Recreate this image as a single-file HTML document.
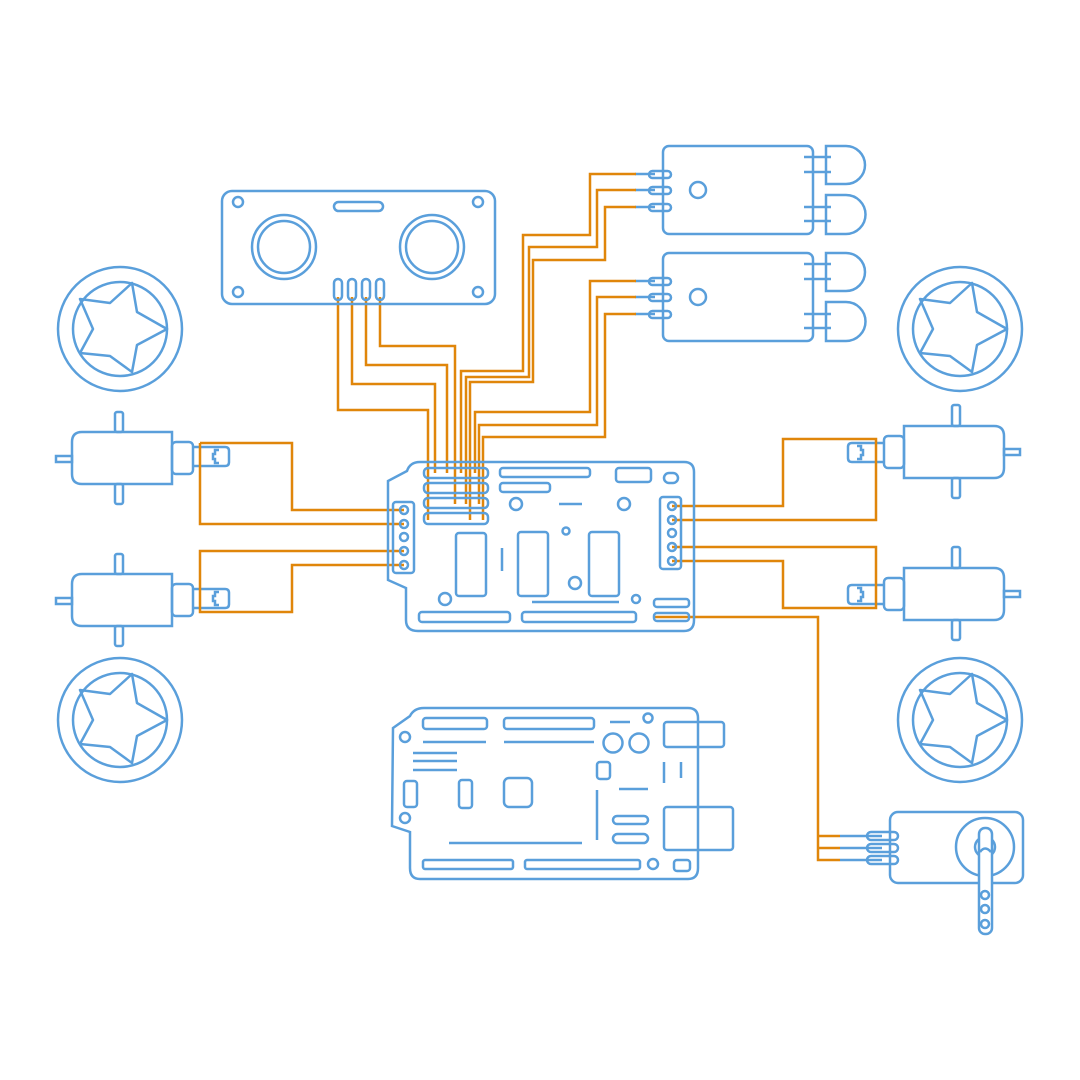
<!DOCTYPE html>
<html><head><meta charset="utf-8"><style>html,body{margin:0;padding:0;background:#fff}svg{display:block}</style></head>
<body>
<svg width="1080" height="1080" viewBox="0 0 1080 1080" xmlns="http://www.w3.org/2000/svg">
<defs>
<g id="wheel" fill="none" stroke="#5A9FDB" stroke-width="2.5">
  <circle r="62"/><circle r="47"/>
  <path d="M47,0 L17,16 L12,43 L-10,27 L-40,24 L-27,0 L-40,-30 L-10,-26 L12,-46 L17,-17 Z" stroke-linejoin="round"/>
</g>
<g id="motorL" fill="none" stroke="#5A9FDB" stroke-width="2.5">
  <path d="M172,432 H82 Q72,432 72,442 V474 Q72,484 82,484 H172 Z"/>
  <rect x="56" y="456" width="16" height="6"/>
  <rect x="115" y="412" width="8" height="20" rx="2"/>
  <rect x="115" y="484" width="8" height="20" rx="2"/>
  <rect x="172" y="442" width="21" height="32" rx="4"/>
  <path d="M193,447 H225 Q229,447 229,451 V462 Q229,466 225,466 H193"/>
  <path d="M219,450 H215 V454 H213 V459 H215 V463 H219"/>
</g>
<g id="motorR" fill="none" stroke="#5A9FDB" stroke-width="2.5">
  <path d="M904,426 H994 Q1004,426 1004,436 V468 Q1004,478 994,478 H904 Z"/>
  <rect x="1004" y="449" width="16" height="6"/>
  <rect x="952" y="405" width="8" height="21" rx="2"/>
  <rect x="952" y="478" width="8" height="20" rx="2"/>
  <rect x="884" y="436" width="20" height="32" rx="4"/>
  <path d="M884,443 H852 Q848,443 848,447 V458 Q848,462 852,462 H884"/>
  <path d="M857,446 H861 V450 H863 V455 H861 V459 H857"/>
</g>
<g id="relay" fill="none" stroke="#5A9FDB" stroke-width="2.5">
  <rect x="663" y="146" width="150" height="88" rx="6"/>
  <circle cx="698" cy="190" r="8"/>
  <rect x="649" y="171" width="22" height="7" rx="3.5"/>
  <rect x="649" y="187" width="22" height="7" rx="3.5"/>
  <rect x="649" y="204" width="22" height="7" rx="3.5"/>
  <path d="M635,174 H655 M635,190 H655 M635,207 H655"/>
  <path d="M804,157 H831 M804,172 H831 M804,207 H831 M804,221 H831"/>
  <path d="M826,146 H846 A19,19 0 0 1 846,184 H826 Z"/>
  <path d="M826,195 H846 A19.5,19.5 0 0 1 846,234 H826 Z"/>
</g>
</defs>

<use href="#wheel" x="120" y="329"/>
<use href="#wheel" x="120" y="720"/>
<use href="#wheel" x="960" y="329"/>
<use href="#wheel" x="960" y="720"/>

<use href="#motorL"/>
<use href="#motorL" y="142"/>
<use href="#motorR"/>
<use href="#motorR" y="142"/>

<use href="#relay"/>
<use href="#relay" y="107"/>

<g fill="none" stroke="#E0860A" stroke-width="2.5">
  <path d="M338,297 V410 H428 V520"/>
  <path d="M352,297 V384 H435 V473"/>
  <path d="M366,297 V365 H447 V473"/>
  <path d="M380,297 V346 H455 V504"/>
  <path d="M636,174 H590 V235 H523 V371 H461 V473"/>
  <path d="M636,190 H597 V247 H529 V377 H466 V504"/>
  <path d="M636,207 H605 V260 H533 V382 H470 V520"/>
  <path d="M636,281 H590 V412 H475 V473"/>
  <path d="M636,297 H597 V425 H479 V504"/>
  <path d="M636,314 H605 V437 H483 V520"/>
  <path d="M200,443 H292 V510 H404"/>
  <path d="M200,443 V524 H404"/>
  <path d="M404,551 H200 V612 H292 V565 H404"/>
  <path d="M672,506 H783 V439 H876 V520 H672"/>
  <path d="M672,547 H876 V608 H783 V561 H672"/>
  <path d="M655,617 H818 V860 H840 M818,836 H840 M818,848 H840"/>
</g>

<g fill="none" stroke="#5A9FDB" stroke-width="2.5">
  <rect x="222" y="191" width="273" height="113" rx="10"/>
  <circle cx="238" cy="202" r="5"/><circle cx="478" cy="202" r="5"/>
  <circle cx="238" cy="292" r="5"/><circle cx="478" cy="292" r="5"/>
  <rect x="334" y="202" width="49" height="9" rx="4.5"/>
  <circle cx="284" cy="247" r="32"/><circle cx="284" cy="247" r="26"/>
  <circle cx="432" cy="247" r="32"/><circle cx="432" cy="247" r="26"/>
  <rect x="334" y="279" width="8" height="21" rx="4"/>
  <rect x="348" y="279" width="8" height="21" rx="4"/>
  <rect x="362" y="279" width="8" height="21" rx="4"/>
  <rect x="376" y="279" width="8" height="21" rx="4"/>

  <path d="M407,471 Q410,462 420,462 H684 Q694,462 694,472 V620 Q694,631 684,631 H418 Q406,631 406,620 V588 L388,580 V481 Z"/>
  <rect x="424" y="468" width="64" height="10" rx="4"/>
  <rect x="424" y="483" width="64" height="10" rx="4"/>
  <rect x="424" y="498" width="64" height="10" rx="4"/>
  <rect x="424" y="513" width="64" height="11" rx="4"/>
  <rect x="500" y="468" width="90" height="9" rx="3"/>
  <rect x="500" y="483" width="50" height="9" rx="3"/>
  <rect x="616" y="468" width="35" height="14" rx="3"/>
  <rect x="664" y="473" width="14" height="10" rx="5"/>
  <circle cx="516" cy="504" r="6"/><circle cx="624" cy="504" r="6"/>
  <path d="M559,504 H582"/>
  <rect x="393" y="502" width="21" height="71" rx="3"/>
  <circle cx="404" cy="510" r="4"/><circle cx="404" cy="524" r="4"/><circle cx="404" cy="537" r="4"/><circle cx="404" cy="551" r="4"/><circle cx="404" cy="565" r="4"/>
  <rect x="660" y="497" width="21" height="72" rx="3"/>
  <circle cx="672" cy="506" r="4"/><circle cx="672" cy="520" r="4"/><circle cx="672" cy="533" r="4"/><circle cx="672" cy="547" r="4"/><circle cx="672" cy="561" r="4"/>
  <rect x="456" y="533" width="30" height="63" rx="3"/>
  <rect x="518" y="532" width="30" height="64" rx="3"/>
  <rect x="589" y="532" width="30" height="64" rx="3"/>
  <path d="M502,548 V571"/>
  <circle cx="566" cy="531" r="3.5"/><circle cx="575" cy="583" r="6"/>
  <circle cx="445" cy="599" r="6"/><circle cx="636" cy="599" r="4"/>
  <path d="M532,602 H619"/>
  <rect x="419" y="612" width="91" height="10" rx="3"/>
  <rect x="522" y="612" width="114" height="10" rx="3"/>
  <rect x="654" y="599" width="35" height="8" rx="3"/>
  <rect x="654" y="613" width="35" height="8" rx="3"/>

  <path d="M410,716 Q414,708 424,708 H688 Q698,708 698,718 V868 Q698,879 688,879 H420 Q410,879 410,868 V832 L392,826 L393,728 Z"/>
  <rect x="423" y="718" width="64" height="11" rx="3"/>
  <rect x="504" y="718" width="90" height="11" rx="3"/>
  <path d="M610,722 H630 M423,742 H486 M504,742 H594 M413,753 H457 M413,761 H457 M413,770 H457"/>
  <circle cx="648" cy="718" r="4.5"/>
  <rect x="664" y="722" width="60" height="25" rx="3"/>
  <rect x="664" y="807" width="69" height="43" rx="3"/>
  <circle cx="613" cy="743" r="9.5"/><circle cx="639" cy="743" r="9.5"/>
  <circle cx="405" cy="737" r="5"/><circle cx="405" cy="818" r="5"/>
  <rect x="404" y="781" width="13" height="26" rx="3"/>
  <rect x="459" y="780" width="13" height="28" rx="3"/>
  <rect x="504" y="778" width="28" height="29" rx="5"/>
  <rect x="597" y="762" width="13" height="17" rx="3"/>
  <path d="M597,790 V840 M664,762 V783 M681,762 V778 M619,789 H648 M449,843 H582"/>
  <rect x="613" y="816" width="35" height="8" rx="4"/>
  <rect x="613" y="834" width="35" height="9" rx="4.5"/>
  <rect x="423" y="860" width="90" height="9" rx="2"/>
  <rect x="525" y="860" width="115" height="9" rx="2"/>
  <circle cx="653" cy="864" r="5"/>
  <rect x="674" y="860" width="16" height="11" rx="3"/>

  <rect x="890" y="812" width="133" height="71" rx="8"/>
  <circle cx="985" cy="847" r="29"/>
  <circle cx="985" cy="847" r="10"/>
  <rect x="979" y="828" width="13" height="106" rx="6" fill="#fff"/>
  <path d="M980,852 Q985,845 991,852" />
  <circle cx="985" cy="895" r="4"/><circle cx="985" cy="909" r="4"/><circle cx="985" cy="924" r="4"/>
  <rect x="867" y="832" width="31" height="8" rx="4"/>
  <rect x="867" y="844" width="31" height="8" rx="4"/>
  <rect x="867" y="856" width="31" height="8" rx="4"/>
  <path d="M840,836 H882 M840,848 H882 M840,860 H882"/>
</g>
</svg>
</body></html>
